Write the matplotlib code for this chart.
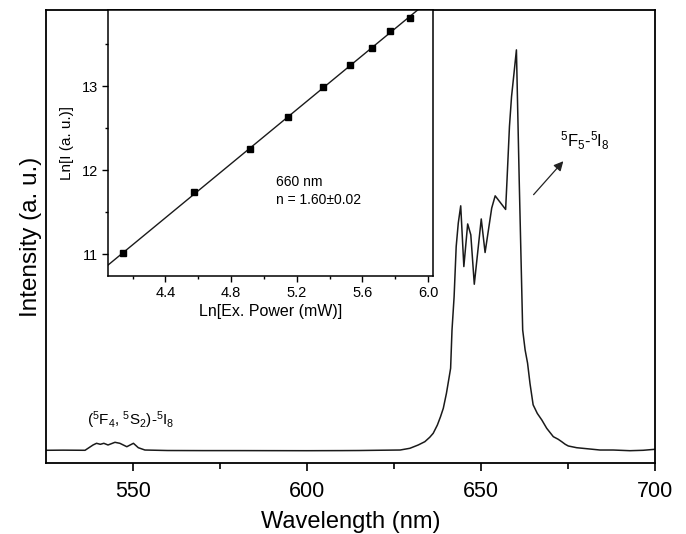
import numpy as np
import matplotlib
matplotlib.use("Agg")
import matplotlib.pyplot as plt

plt.rcParams['font.family'] = ['Liberation Sans', 'DejaVu Sans']
plt.rcParams['mathtext.fontset'] = 'custom'
plt.rcParams['mathtext.rm'] = 'Liberation Sans'
plt.rcParams['mathtext.it'] = 'Liberation Sans'

# Main spectrum (wavelength in nm, intensity in a.u.)
wavelength = [525, 530, 536.3, 538.6, 539.6, 540.7, 541.7, 542.9, 544.9, 546.3, 548.3,
              550.2, 551.6, 553.5, 560, 570, 580, 590, 600, 610, 615, 620, 626.8,
              629.6, 632.0, 633.9, 635.3, 636.3, 637.5, 638.4, 639.2, 640.1, 640.9,
              641.3, 641.7, 642.3, 642.9, 643.5, 644.2, 645.1,
              646.2, 647.1, 648.1, 650.1, 651.2, 653.1, 654.1, 657.1, 657.5, 658.2,
              658.8, 659.5, 660.2, 661.0, 662.0, 662.7, 663.4, 664.1, 665.0, 666.2,
              667.5, 668.9, 670.8, 672.2, 673.2, 674.2, 675.1, 677.5, 680.4, 684.2,
              688.0, 692.8, 696.6, 700]
intensity = [0.0287, 0.0290, 0.0287, 0.0404, 0.0441, 0.0419, 0.0441, 0.0404, 0.0463,
             0.0441, 0.0366, 0.0441, 0.0344, 0.0293, 0.0282, 0.0280, 0.0280, 0.0279,
             0.0278, 0.0280, 0.0282, 0.0287, 0.0293,
             0.0331, 0.0404, 0.0477, 0.0574, 0.0662, 0.0845, 0.1028, 0.1213, 0.1544,
             0.191, 0.2096, 0.294, 0.367, 0.478, 0.530, 0.568, 0.434,
             0.528, 0.504, 0.395, 0.539, 0.465, 0.563, 0.590, 0.560, 0.625, 0.743,
             0.809, 0.860, 0.912, 0.625, 0.294, 0.250, 0.221, 0.176, 0.129, 0.110,
             0.0955, 0.0772, 0.0587, 0.053, 0.0477, 0.042, 0.0382, 0.0344, 0.0322,
             0.0293, 0.0293, 0.0278, 0.0287, 0.0309]

# Inset: power dependence
ln_power = [4.144, 4.575, 4.915, 5.147, 5.361, 5.522, 5.658, 5.768, 5.892]
ln_intensity = [11.01, 11.74, 12.25, 12.63, 12.99, 13.25, 13.457, 13.655, 13.82]

main_xticks = [550, 600, 650, 700]
main_xminor = [575, 625, 675]
inset_xticks = [4.4, 4.8, 5.2, 5.6, 6.0]
inset_xminor = [4.2, 4.6, 5.0, 5.4, 5.8]
inset_yticks = [11, 12, 13]
inset_yminor = [11.5, 12.5, 13.5]

fig = plt.figure(figsize=(6.86, 5.34), dpi=100)
ax = fig.add_axes([0.0666, 0.1324, 0.8882, 0.8489])
ax.plot(wavelength, intensity, color='#1a1a1a', lw=1.1)
ax.set_xlim(525, 700)
ax.set_ylim(0, 1.0)
ax.set_yticks([])
ax.set_xticks(main_xticks)
ax.set_xticks(main_xminor, minor=True)
ax.tick_params(axis='x', which='major', direction='out', length=6, width=1.2, labelsize=15.5, pad=7)
ax.tick_params(axis='x', which='minor', direction='out', length=4, width=1.2)
for s in ax.spines.values():
    s.set_linewidth(1.3)
ax.set_xlabel('Wavelength (nm)', fontsize=17, labelpad=6)
ax.set_ylabel('Intensity (a. u.)', fontsize=17.5, labelpad=3)

ax.text(536.8, 0.0845, r'($^5$F$_4$, $^5$S$_2$)-$^5$I$_8$', fontsize=11, ha='left', va='baseline')
ax.text(672.8, 0.698, r'$^5$F$_5$-$^5$I$_8$', fontsize=12, ha='left', va='baseline')
ax.annotate('', xy=(674.2, 0.671), xytext=(664.6, 0.588),
            arrowprops=dict(arrowstyle='-|>', color='#222222', lw=0.9, mutation_scale=14))

# Inset
ins = fig.add_axes([0.1574, 0.4831, 0.4738, 0.4982])
slope, intercept = np.polyfit(ln_power, ln_intensity, 1)
xfit = np.array([4.0, 6.1])
ins.plot(xfit, slope * xfit + intercept, color='#1a1a1a', lw=1.0)
ins.plot(ln_power, ln_intensity, 's', color='black', markersize=4.5)
ins.set_xlim(4.05, 6.03)
ins.set_ylim(10.74, 13.91)
ins.set_xticks(inset_xticks)
ins.set_xticklabels(['4.4', '4.8', '5.2', '5.6', '6.0'])
ins.set_xticks(inset_xminor, minor=True)
ins.set_yticks(inset_yticks)
ins.set_yticks(inset_yminor, minor=True)
ins.tick_params(which='major', direction='out', length=4, width=1.0, labelsize=10.5, pad=3)
ins.tick_params(which='minor', direction='out', length=2.5, width=1.0)
for s in ins.spines.values():
    s.set_linewidth(1.1)
ins.set_xlabel('Ln[Ex. Power (mW)]', fontsize=11.5, labelpad=3)
ins.set_ylabel('Ln[I (a. u.)]', fontsize=11, labelpad=6)
ins.text(5.076, 11.86, '660 nm', fontsize=10, ha='left', va='center')
ins.text(5.076, 11.65, 'n = 1.60\u00b10.02', fontsize=10, ha='left', va='center')

fig.savefig('out.png', dpi=100)
